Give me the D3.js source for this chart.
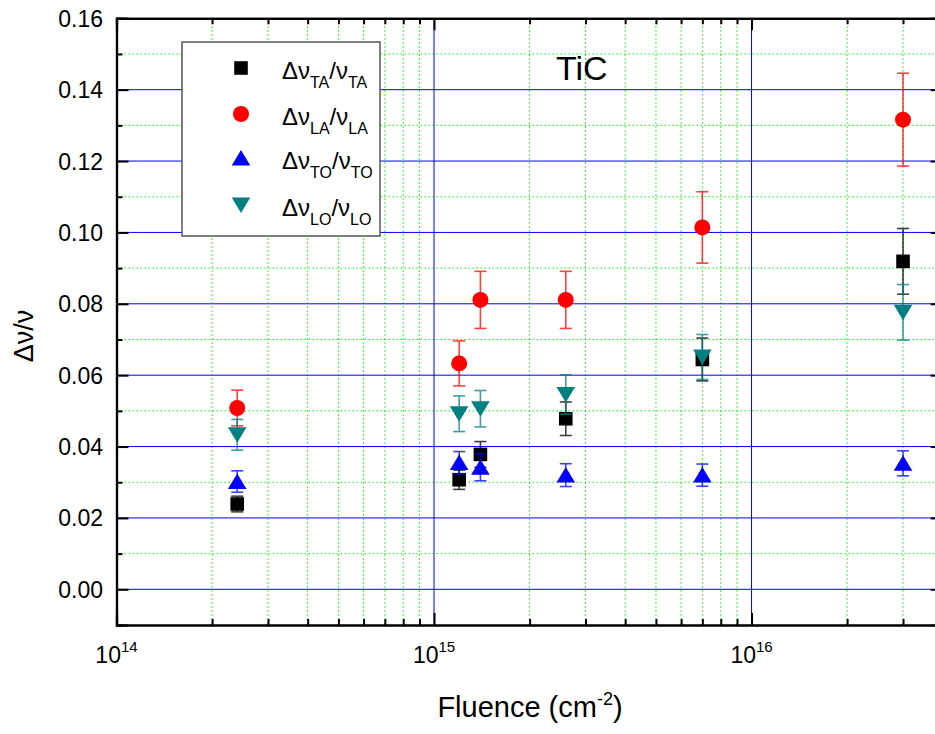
<!DOCTYPE html>
<html><head><meta charset="utf-8">
<script src="https://cdn.jsdelivr.net/npm/d3@7"></script>
<style>body{margin:0;background:#fff}svg{display:block}text{font-family:"Liberation Sans",Arial,sans-serif}</style>
</head><body><svg id="c" width="935" height="734"></svg>
<script>
const fluence = [2.4e14, 1.2e15, 1.4e15, 2.6e15, 7.0e15, 3.0e16];
const seriesNames = ["TA", "LA", "TO", "LO"];
const valTA = [0.0239, 0.0307, 0.0378, 0.0478, 0.0644, 0.0919];
const errTA = [0.0022, 0.0027, 0.0036, 0.0047, 0.0060, 0.0092];
const valLA = [0.0508, 0.0633, 0.0811, 0.0811, 0.1014, 0.1316];
const errLA = [0.0050, 0.0063, 0.0080, 0.0080, 0.0100, 0.0130];
const valTO = [0.0302, 0.0355, 0.0342, 0.0320, 0.0320, 0.0353];
const errTO = [0.0030, 0.0031, 0.0038, 0.0032, 0.0031, 0.0035];
const valLO = [0.0433, 0.0492, 0.0506, 0.0546, 0.0651, 0.0776];
const errLO = [0.0043, 0.0050, 0.0051, 0.0055, 0.0063, 0.0078];
const colors = ["#000000", "#ff0000", "#0000ff", "#008080"];
const shapes = ["square", "circle", "up", "down"];
const yTicks = [0.00, 0.02, 0.04, 0.06, 0.08, 0.10, 0.12, 0.14, 0.16];
const xDecades = [14, 15, 16];

const series = [
  {name: "TA", v: valTA, e: errTA},
  {name: "LA", v: valLA, e: errLA},
  {name: "TO", v: valTO, e: errTO},
  {name: "LO", v: valLO, e: errLO}
];

const svg = d3.select("#c");
const L = 116.5, R = 942.7, T = 18.3, B = 625;
const x = d3.scaleLog().domain([1e14, 4e16]).range([L, R]);
const y = d3.scaleLinear().domain([-0.01, 0.16]).range([B, T]);

// minor grid
const minorX = [];
for (let d = 14; d <= 16; d++) for (let m = 2; m <= 9; m++) { const v = m * Math.pow(10, d); if (v < 4e16) minorX.push(v); }
const minorY = d3.range(-1, 16, 2).map(i => i / 100).filter(v => v > -0.01 && v < 0.16);
const g = svg.append("g");
g.selectAll(".mx").data(minorX).join("line")
  .attr("x1", d => x(d)).attr("x2", d => x(d)).attr("y1", T).attr("y2", B)
  .attr("stroke", "#00ee00").attr("stroke-width", 1).attr("stroke-dasharray", "1.5,2.5");
g.selectAll(".my").data(minorY).join("line")
  .attr("x1", L).attr("x2", R).attr("y1", d => y(d)).attr("y2", d => y(d))
  .attr("stroke", "#00ee00").attr("stroke-width", 1).attr("stroke-dasharray", "1.5,2.5");
// major grid
g.selectAll(".Mx").data([1e15, 1e16]).join("line")
  .attr("x1", d => x(d)).attr("x2", d => x(d)).attr("y1", T).attr("y2", B)
  .attr("stroke", "#0000ff").attr("stroke-width", 1);
g.selectAll(".My").data(yTicks.filter(v => v < 0.16)).join("line")
  .attr("x1", L).attr("x2", R).attr("y1", d => y(d)).attr("y2", d => y(d))
  .attr("stroke", "#0000ff").attr("stroke-width", 1);

// axes (ticks inward)
const axB = d3.axisBottom(x).tickValues(xDecades.map(d => Math.pow(10, d))).tickSize(-12).tickFormat("");
const axBm = d3.axisBottom(x).tickValues(minorX).tickSize(-6).tickFormat("");
const axT = d3.axisTop(x).tickValues(xDecades.map(d => Math.pow(10, d))).tickSize(-12).tickFormat("");
const axTm = d3.axisTop(x).tickValues(minorX).tickSize(-6).tickFormat("");
const axL = d3.axisLeft(y).tickValues(yTicks).tickSize(-12).tickFormat("");
const axLm = d3.axisLeft(y).tickValues(minorY).tickSize(-6).tickFormat("");
const axR = d3.axisRight(y).tickValues(yTicks).tickSize(-12).tickFormat("");
const axRm = d3.axisRight(y).tickValues(minorY).tickSize(-6).tickFormat("");
function styleAx(sel) {
  sel.selectAll("path").attr("stroke", "#000").attr("stroke-width", 2.2);
  sel.selectAll("line").attr("stroke", "#000").attr("stroke-width", 2);
}
[[axB, `translate(0,${B})`], [axBm, `translate(0,${B})`], [axT, `translate(0,${T})`], [axTm, `translate(0,${T})`],
 [axL, `translate(${L},0)`], [axLm, `translate(${L},0)`], [axR, `translate(${R},0)`], [axRm, `translate(${R},0)`]]
 .forEach(([a, t]) => { const s = svg.append("g").attr("transform", t).call(a); styleAx(s); });

// y tick labels
svg.selectAll(".yl").data(yTicks).join("text")
  .attr("x", 103).attr("y", d => y(d) + 8.5).attr("text-anchor", "end")
  .attr("font-size", 23).text(d => d.toFixed(2));
// x tick labels
xDecades.forEach(d => {
  const t = svg.append("text").attr("x", x(Math.pow(10, d))).attr("y", 663).attr("text-anchor", "middle").attr("font-size", 23);
  t.append("tspan").text("10");
  t.append("tspan").attr("font-size", 15).attr("dy", -11).text(String(d));
});

// axis titles
const xt = svg.append("text").attr("x", 530).attr("y", 717).attr("text-anchor", "middle").attr("font-size", 29);
xt.append("tspan").text("Fluence (cm");
xt.append("tspan").attr("font-size", 18).attr("dy", -12).text("-2");
xt.append("tspan").attr("dy", 12).text(")");
svg.append("text").attr("transform", "translate(33,336) rotate(-90)").attr("text-anchor", "middle")
  .attr("font-size", 27).text("Δν/ν");

// TiC label
svg.append("text").attr("x", 556).attr("y", 80).attr("font-size", 34).text("TiC");

// markers
function drawMarker(sel, shape, color) {
  if (shape === "square") sel.append("rect").attr("x", -6.8).attr("y", -6.8).attr("width", 13.6).attr("height", 13.6).attr("fill", color);
  else if (shape === "circle") sel.append("circle").attr("r", 8).attr("fill", color);
  else if (shape === "up") sel.append("path").attr("d", "M0,-8 L9.3,7.5 L-9.3,7.5 Z").attr("fill", color);
  else sel.append("path").attr("d", "M0,8 L9.3,-7.5 L-9.3,-7.5 Z").attr("fill", color);
}

series.forEach((s, i) => {
  const sg = svg.append("g");
  fluence.forEach((f, j) => {
    const cx = x(f), top = y(s.v[j] + s.e[j]), bot = y(s.v[j] - s.e[j]);
    const eg = sg.append("g").attr("stroke", colors[i]).attr("stroke-width", 1.6).attr("opacity", 0.75);
    eg.append("line").attr("x1", cx).attr("x2", cx).attr("y1", top).attr("y2", bot);
    eg.append("line").attr("x1", cx - 6).attr("x2", cx + 6).attr("y1", top).attr("y2", top);
    eg.append("line").attr("x1", cx - 6).attr("x2", cx + 6).attr("y1", bot).attr("y2", bot);
  });
  fluence.forEach((f, j) => {
    drawMarker(sg.append("g").attr("transform", `translate(${x(f)},${y(s.v[j])})`), shapes[i], colors[i]);
  });
});

// legend
const lg = svg.append("g");
lg.append("rect").attr("x", 182).attr("y", 42).attr("width", 198).attr("height", 194)
  .attr("fill", "#fff").attr("stroke", "#555").attr("stroke-width", 1.5);
const rowsY = [68, 114, 158, 205];
seriesNames.forEach((n, i) => {
  drawMarker(lg.append("g").attr("transform", `translate(241,${rowsY[i]})`), shapes[i], colors[i]);
  const t = lg.append("text").attr("x", 282).attr("y", rowsY[i] + 11).attr("font-size", 24);
  t.append("tspan").text("Δν");
  t.append("tspan").attr("font-size", 16).attr("dy", 9).text(n);
  t.append("tspan").attr("dy", -9).text("/ν");
  t.append("tspan").attr("font-size", 16).attr("dy", 9).text(n);
});
</script></body></html>
